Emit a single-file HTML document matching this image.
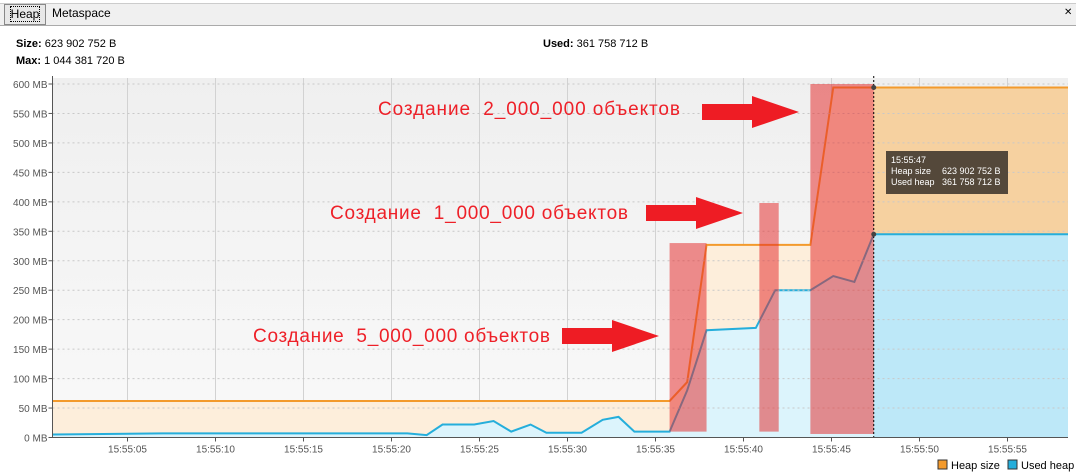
<!DOCTYPE html>
<html><head><meta charset="utf-8">
<style>
body{margin:0;width:1076px;height:475px;background:#fff;font-family:"Liberation Sans",Tahoma,sans-serif;overflow:hidden;position:relative}
.t{position:absolute;font-size:11px;color:#000}
</style></head><body>
<div style="position:absolute;left:0;top:3px;width:1076px;height:21px;background:#f0f0f0;border-top:1px solid #ccc;border-bottom:1px solid #aaa"></div>
<div style="position:absolute;left:4px;top:4px;width:40px;height:19px;background:#e8e8e8;border:1px solid #888;font-size:12px;line-height:19px;text-align:center"><span style="outline:1px dotted #000">Heap</span></div>
<div style="position:absolute;left:46px;top:4px;width:68px;height:20px;font-size:12px;line-height:19px;padding-left:6px">Metaspace</div>
<div style="position:absolute;left:1064px;top:7px;font-size:10px">✕</div>
<div class="t" style="left:16px;top:38px"><b>Size:</b> 623 902 752 B</div>
<div class="t" style="left:16px;top:55px"><b>Max:</b> 1 044 381 720 B</div>
<div class="t" style="left:543px;top:38px"><b>Used:</b> 361 758 712 B</div>
<svg id="c" width="1076" height="475" style="position:absolute;left:0;top:0" font-family="Liberation Sans, Tahoma, sans-serif"></svg>
<script>
const yTicks=[0,50,100,150,200,250,300,350,400,450,500,550,600];
const xTickSecs=[5,10,15,20,25,30,35,40,45,50,55];
const heapT=[0.76,35.8,36.8,37.9,43.8,45.1,47.4,58.5];
const heapV=[62,62,94,327,327,594,594,594];
const usedT=[0.76,7.0,20.9,22.0,22.9,24.7,25.8,26.8,27.9,28.8,30.8,32.0,32.9,33.8,35.8,36.8,37.9,40.7,41.8,43.8,45.1,46.3,47.4,58.5];
const usedV=[5,7,7,4,22,22,28,10,22,8,8,30,35,10,10,80,182,186,250,250,274,264,345,345];
const markStarts=[35.8,40.9,43.8];
const markEnds=[37.9,42.0,47.4];
const markTops=[330,398,600];
const markBottoms=[10,10,6];
const cursorT=47.4;
const svg=document.getElementById('c');const NS='http://www.w3.org/2000/svg';
const X0=52.5,X1=1068,Y0=437.5,Y1=84;
const x=t=>39.5+t*17.6;
const y=v=>Y0-(v)*(Y0-Y1)/600;
function el(tag,a,p){const e=document.createElementNS(NS,tag);for(const k in a)e.setAttribute(k,a[k]);(p||svg).appendChild(e);return e;}
const defs=el('defs',{});
const g=el('linearGradient',{id:'bg',x1:0,y1:0,x2:0,y2:1},defs);
el('stop',{offset:0,'stop-color':'#efefef'},g);el('stop',{offset:1,'stop-color':'#f9f9f9'},g);
const cp=el('clipPath',{id:'right'},defs);el('rect',{x:x(cursorT),y:0,width:300,height:500},cp);
const cpl=el('clipPath',{id:'plot'},defs);el('rect',{x:X0,y:Y1-2,width:X1-X0,height:Y0-Y1+2},cpl);
let r=el('rect',{x:X0,y:Y1-6,width:X1-X0,height:Y0-Y1+6,fill:'url(#bg)'});

xTickSecs.forEach((s,i)=>{const l=el('line',{x1:x(s),x2:x(s),y1:Y1-6,y2:Y0,stroke:'#d2d2d2'});
});
function area(T,V){let d='M'+x(T[0])+','+Y0;T.forEach((t,i)=>d+=' L'+x(t)+','+y(V[i]));return d+' L'+x(T[T.length-1])+','+Y0+'Z';}
function line(T,V){return 'M'+T.map((t,i)=>x(t)+','+y(V[i])).join(' L');}
const pg=el('g',{'clip-path':'url(#plot)'});
let a=el('path',{d:area(heapT,heapV),fill:'#fdeedb'},pg);
a=el('path',{d:area(usedT,usedV),fill:'#dcf4fc'},pg);
const rg=el('g',{'clip-path':'url(#right)'},pg);
el('path',{d:area(heapT,heapV),fill:'#f6d1a0'},rg);el('path',{d:area(usedT,usedV),fill:'#bde8f8'},rg);
yTicks.forEach(v=>{if(v===0)return;const l=el('line',{x1:X0,x2:X1,y1:y(v),y2:y(v),stroke:'#c8c8c8','stroke-dasharray':'2,3'});
});
let ln=el('path',{d:line(heapT,heapV),fill:'none',stroke:'#f39a2c','stroke-width':2},pg);
ln=el('path',{d:line(usedT,usedV),fill:'none',stroke:'#25aedb','stroke-width':2},pg);
markStarts.forEach((s,i)=>{const m=el('rect',{x:x(s),y:y(markTops[i]),width:x(markEnds[i])-x(s),height:y(markBottoms[i])-y(markTops[i]),fill:'rgba(228,40,40,0.52)'});
});
const cl=el('line',{x1:x(cursorT),x2:x(cursorT),y1:Y1-8,y2:Y0,stroke:'#000','stroke-dasharray':'2,2'});

el('circle',{cx:x(cursorT),cy:y(594),r:2.5,fill:'#444'});el('circle',{cx:x(cursorT),cy:y(345),r:2.5,fill:'#444'});
el('line',{x1:X0,x2:X0,y1:Y1-8,y2:Y0,stroke:'#555'});el('line',{x1:X0,x2:X1,y1:Y0,y2:Y0,stroke:'#555'});
yTicks.forEach(v=>{el('line',{x1:X0-4,x2:X0,y1:y(v),y2:y(v),stroke:'#555'});
const t=el('text',{x:X0-5,y:y(v)+4,'text-anchor':'end','font-size':10,fill:'#555'});t.textContent=v+' MB';
});
xTickSecs.forEach(s=>{el('line',{x1:x(s),x2:x(s),y1:Y0,y2:Y0+4,stroke:'#555'});
const t=el('text',{x:x(s),y:Y0+15,'text-anchor':'middle','font-size':10,fill:'#555'});t.textContent='15:55:'+String(s).padStart(2,'0');
});
// annotations
[[378,115,'Создание\u00a0\u00a02_000_000 объектов',702,112,302],[330,219,'Создание\u00a0\u00a01_000_000 объектов',646,213,298],[253,342,'Создание\u00a0\u00a05_000_000 объектов',562,336,297]].forEach(a=>{
const t=el('text',{x:a[0],y:a[1],'font-size':19,fill:'#ee2028',textLength:a[5],lengthAdjust:'spacing'});t.textContent=a[2];

const p=el('path',{d:`M${a[3]},${a[4]-8} h50 v-8 l47,16 l-47,16 v-8 h-50Z`,fill:'#ee1c24'});
});
// tooltip
const tg=el('g',{});
el('rect',{x:886,y:151,width:122,height:43,fill:'#54483a'},tg);
[['15:55:47',''],['Heap size','623 902 752 B'],['Used heap','361 758 712 B']].forEach((r,i)=>{
let t=el('text',{x:891,y:163+i*11,'font-size':9,fill:'#fff'},tg);t.textContent=r[0];
t=el('text',{x:942,y:163+i*11,'font-size':9,fill:'#fff'},tg);t.textContent=r[1];});
// legend
[[938,'#f39a2c','Heap size'],[1008,'#25aedb','Used heap']].forEach(l=>{
const gg=el('g',{});
el('rect',{x:l[0],y:460,width:9,height:9,fill:l[1],stroke:'#333'},gg);
const t=el('text',{x:l[0]+13,y:469,'font-size':11,fill:'#000'},gg);t.textContent=l[2];});
</script>
</body></html>
